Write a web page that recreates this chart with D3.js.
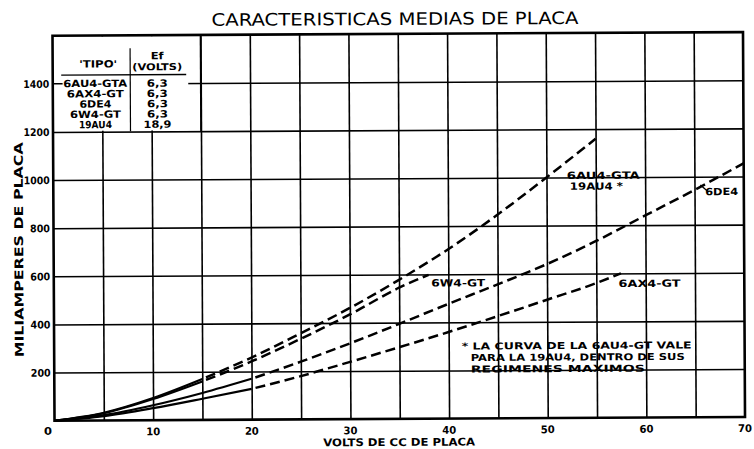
<!DOCTYPE html>
<html><head><meta charset="utf-8">
<script src="https://cdn.jsdelivr.net/npm/d3@7"></script>
<style>body{margin:0;background:#fff}svg{display:block}</style>
</head><body>
<script>
// ---- data ----
const chartTitle = "CARACTERISTICAS MEDIAS DE PLACA";
const xTitle = "VOLTS DE CC DE PLACA";
const yTitle = "MILIAMPERES DE PLACA";
const xTickLabels = [10, 20, 30, 40, 50, 60, 70];
const yTickLabels = [200, 400, 600, 800, 1000, 1200, 1400];
const tubeTypes = ["6AU4-GTA", "6AX4-GT", "6DE4", "6W4-GT", "19AU4"];
const heaterVolts = ["6,3", "6,3", "6,3", "6,3", "18,9"];

const voltsAU4 = [0, 5, 10, 15, 20, 25, 30, 35, 40, 45, 50, 55];
const maAU4    = [0, 32, 92, 170, 258, 358, 462, 578, 704, 846, 1000, 1160];
const voltsW4  = [0, 5, 10, 15, 20, 25, 30, 35, 38];
const maW4     = [0, 30, 88, 160, 242, 335, 435, 545, 598];
const voltsDE4 = [0, 5, 10, 15, 20, 25, 30, 35, 40, 45, 50, 55, 60, 65, 70];
const maDE4    = [0, 22, 62, 112, 170, 240, 315, 395, 477, 557, 640, 735, 840, 945, 1055];
const voltsAX4 = [0, 5, 10, 15, 20, 25, 30, 35, 40, 45, 50, 55, 57.5];
const maAX4    = [0, 18, 50, 88, 128, 180, 238, 298, 360, 425, 492, 560, 600];
const solidUntil = [15, 15, 20, 20];
const noteLines = ["* LA CURVA DE LA  6AU4-GT VALE", "PARA LA 19AU4, DENTRO DE SUS", "REGIMENES MAXIMOS"];

// ---- drawing ----
const W = 754, H = 449;
const svg = d3.select("body").append("svg").attr("width", W).attr("height", H)
  .style("background", "#fff");
const root = svg.append("g").attr("transform", "rotate(-0.3,377,225)");
const x = d3.scaleLinear().domain([0, 70]).range([53.5, 744]);
const y = d3.scaleLinear().domain([0, 1600]).range([419, 34]);
const FONT = "'DejaVu Sans', sans-serif";

function txt(g, s, px, py, o = {}) {
  const t = g.append("text").attr("x", px).attr("y", py).text(s)
    .attr("font-family", FONT)
    .attr("font-size", o.size || 10)
    .attr("font-weight", o.weight || "bold")
    .attr("text-anchor", o.anchor || "middle")
    .attr("fill", "#000");
  if (o.len) t.attr("textLength", o.len).attr("lengthAdjust", "spacingAndGlyphs");
  if (o.transform) t.attr("transform", o.transform);
  return t;
}

// grid
const grid = root.append("g");
grid.append("g").attr("transform", `translate(0,${y(0)})`)
  .call(d3.axisBottom(x).tickValues(d3.range(5, 70, 5)).tickSize(-(y(0) - y(1600))).tickFormat(""))
  .call(g => g.select(".domain").remove())
  .call(g => g.selectAll("line").attr("stroke", "#000").attr("stroke-width", 1.6));
grid.append("g").attr("transform", `translate(${x(0)},0)`)
  .call(d3.axisLeft(y).tickValues(yTickLabels).tickSize(-(x(70) - x(0))).tickFormat(""))
  .call(g => g.select(".domain").remove())
  .call(g => g.selectAll("line").attr("stroke", "#000").attr("stroke-width", 1.6));

// table area (blank out grid)
root.append("rect").attr("x", x(0) + 1).attr("y", y(1600) + 1)
  .attr("width", 188 - x(0)).attr("height", y(1200) - y(1600) - 2).attr("fill", "#fff");
root.append("line").attr("x1", x(15)).attr("x2", x(15)).attr("y1", y(1600)).attr("y2", y(1200))
  .attr("stroke", "#000").attr("stroke-width", 1.6);
root.append("line").attr("x1", x(0)).attr("x2", x(1.0)).attr("y1", y(1400)).attr("y2", y(1400))
  .attr("stroke", "#000").attr("stroke-width", 1.6);

// table
const tb = root.append("g");
txt(tb, "'TIPO'", 99, 66, { size: 10, len: 38 });
txt(tb, "Ef", 158, 58, { size: 10, len: 13 });
txt(tb, "(VOLTS)", 158, 69, { size: 9.5, len: 50 });
tb.append("line").attr("x1", 62).attr("x2", 187).attr("y1", 73.5).attr("y2", 73.5)
  .attr("stroke", "#000").attr("stroke-width", 1.4);
tb.append("line").attr("x1", 131).attr("x2", 131).attr("y1", 47).attr("y2", 130)
  .attr("stroke", "#000").attr("stroke-width", 1.2);
const rowLens = [64, 57, 32, 51, 33];
tubeTypes.forEach((t, i) => {
  const by = 85.5 + i * 10.3;
  txt(tb, t, 96, by, { size: 10, len: rowLens[i] });
  txt(tb, heaterVolts[i], 158, by, { size: 10, len: heaterVolts[i].length > 3 ? 28 : 21 });
});

// border
root.append("rect").attr("x", x(0)).attr("y", y(1600))
  .attr("width", x(70) - x(0)).attr("height", y(0) - y(1600))
  .attr("fill", "none").attr("stroke", "#000").attr("stroke-width", 2.6);

// curves
const line = d3.line().x(d => x(d[0])).y(d => y(d[1])).curve(d3.curveMonotoneX);
const series = [[voltsAU4, maAU4], [voltsW4, maW4], [voltsDE4, maDE4], [voltsAX4, maAX4]];
series.forEach(([vs, ms], i) => {
  const pts = vs.map((v, j) => [v, ms[j]]);
  const s = solidUntil[i];
  root.append("path").attr("d", line(pts.filter(p => p[0] <= s)))
    .attr("fill", "none").attr("stroke", "#000").attr("stroke-width", 2.2);
  root.append("path").attr("d", line(pts.filter(p => p[0] >= s)))
    .attr("fill", "none").attr("stroke", "#000").attr("stroke-width", 2.5)
    .attr("stroke-dasharray", "10,5").attr("stroke-dashoffset", -4);
});

// curve labels
const lb = root.append("g");
txt(lb, "6AU4-GTA", x(55.76), y(993), { size: 10, len: 73 });
txt(lb, "19AU4 *", x(55.05), y(948), { size: 10, len: 53 });
txt(lb, "6DE4", x(67.75), y(923), { size: 10, len: 33 });
lb.append("line").attr("x1", x(65.6)).attr("y1", y(965)).attr("x2", x(66.3)).attr("y2", y(940))
  .attr("stroke", "#000").attr("stroke-width", 1.3);
txt(lb, "6W4-GT", x(41.0), y(549), { size: 10, len: 54 });
txt(lb, "6AX4-GT", x(60.4), y(543), { size: 10, len: 62 });

// note
const nt = root.append("g");
const noteLens = [230, 214, 174];
const noteX = [461, 470, 470];
const noteY = [350, 361.5, 373];
noteLines.forEach((s, i) => txt(nt, s, noteX[i], noteY[i], { size: 9.5, anchor: "start", len: noteLens[i] }));

// axis labels
const ax = root.append("g");
yTickLabels.forEach(v => txt(ax, String(v), 50, y(v) + 4, { size: 10.5, anchor: "end", len: v >= 1000 ? 26 : 20 }));
txt(ax, "0", 47, 433, { size: 10.5, len: 8 });
xTickLabels.forEach(v => txt(ax, String(v), x(v), 434, { size: 10.5, len: 14 }));
txt(ax, xTitle, 398, 446, { size: 10.5, len: 152 });
txt(ax, yTitle, 0, 0, { size: 12, len: 215, transform: "translate(23,248) rotate(-90)" });
txt(ax, chartTitle, 396, 25, { size: 17, weight: "normal", len: 367 });
</script>
</body></html>
